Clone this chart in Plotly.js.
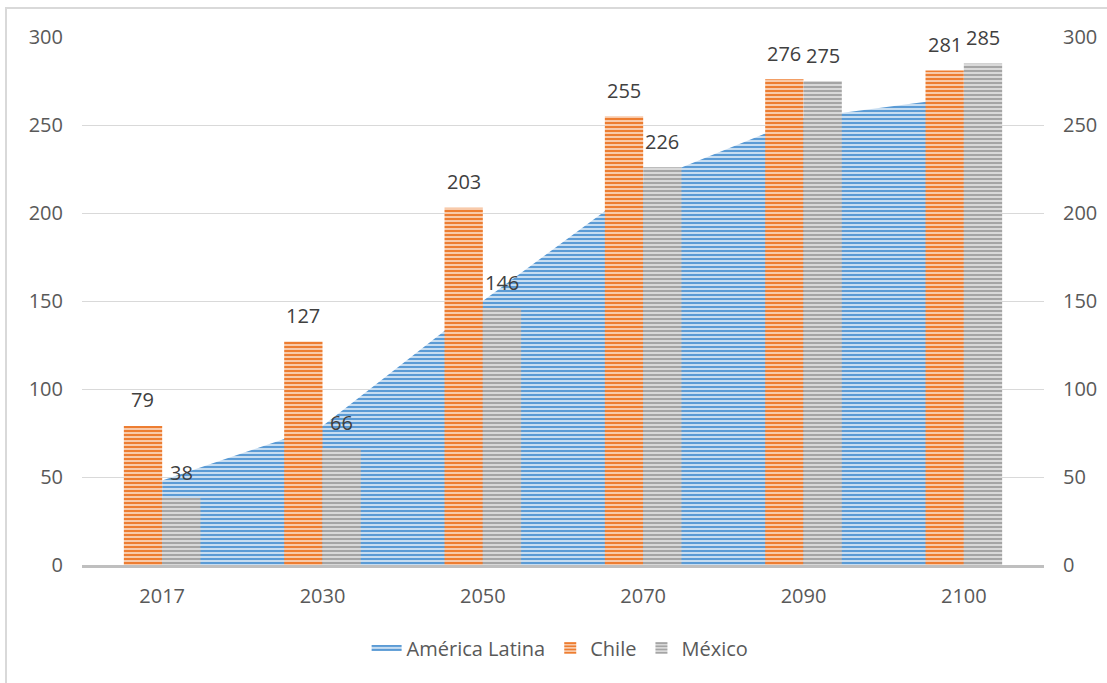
<!DOCTYPE html>
<html>
<head>
<meta charset="utf-8">
<script src="https://cdn.plot.ly/plotly-3.0.1.min.js"></script>
<style>
  html, body { margin: 0; padding: 0; background: #ffffff; }
  #wrap { position: relative; width: 1107px; height: 683px; overflow: hidden; }
  #chart { width: 1107px; height: 683px; }
  #frame { position: absolute; left: 5px; top: 7px; width: 1200px; height: 800px;
           border-left: 2px solid #D9D9D9; border-top: 2px solid #D9D9D9; pointer-events: none; }
  #err { position: absolute; left: 100px; top: 100px; color: red; font: 14px monospace; white-space: pre-wrap; width: 900px; }
</style>
</head>
<body>
<div id="wrap">
  <div id="chart"></div>
  <div id="frame"></div>
  <div id="err"></div>
</div>
<script>
window.onerror = function (m, s, l, c, e) { document.getElementById('err').textContent += 'ERR: ' + m + ' @' + l + ':' + c + '\n' + (e && e.stack ? e.stack.slice(0, 600) : ''); };
// ---- data ----
const years = ['2017', '2030', '2050', '2070', '2090', '2100'];
const americaLatina = [48, 79, 150, 217, 254, 266];
const chile = [79, 127, 203, 255, 276, 281];
const mexico = [38, 66, 146, 226, 275, 285];
const seriesNames = ['América Latina', 'Chile', 'México'];
const yTicks = [0, 50, 100, 150, 200, 250, 300];

// ---- styles ----
const FONT = 'Open Sans, sans-serif';
const labelFont = { family: FONT, size: 20, color: '#404040' };
const tickFont = { family: FONT, size: 20, color: '#595959' };

const traces = [
  {
    type: 'scatter',
    name: seriesNames[0],
    x: years,
    y: americaLatina,
    xaxis: 'x',
    yaxis: 'y',
    mode: 'none',
    fill: 'tozeroy',
    fillcolor: '#5B9BD5',
    fillpattern: { shape: '-', fgcolor: '#5B9BD5', bgcolor: '#E2EEF9', size: 4, solidity: 0.6 }
  },
  {
    type: 'bar',
    name: seriesNames[1],
    x: years,
    y: chile,
    xaxis: 'x',
    yaxis: 'y2',
    marker: {
      color: '#ED7D31',
      line: { width: 0 },
      pattern: { shape: '-', fgcolor: '#ED7D31', bgcolor: '#FBDDC8', size: 4, solidity: 0.6 }
    }
  },
  {
    type: 'bar',
    name: seriesNames[2],
    x: years,
    y: mexico,
    xaxis: 'x',
    yaxis: 'y2',
    marker: {
      color: '#A5A5A5',
      line: { width: 0 },
      pattern: { shape: '-', fgcolor: '#A5A5A5', bgcolor: '#E6E6E6', size: 4, solidity: 0.6 }
    }
  }
];

// data labels built from the bar series
const annotations = [];
years.forEach((yr, i) => {
  annotations.push({ x: i, y: chile[i], xref: 'x', yref: 'y2', text: String(chile[i]),
    showarrow: false, xshift: -19.2, yshift: 26, yanchor: 'middle', font: labelFont });
  annotations.push({ x: i, y: mexico[i], xref: 'x', yref: 'y2', text: String(mexico[i]),
    showarrow: false, xshift: 19.2, yshift: 26, yanchor: 'middle', font: labelFont });
});

const layout = {
  width: 1107,
  height: 683,
  margin: { l: 82, r: 63, t: 37, b: 118, pad: 0 },
  paper_bgcolor: '#ffffff',
  plot_bgcolor: '#ffffff',
  barmode: 'group',
  bargap: 0.522,
  bargroupgap: 0,
  showlegend: true,
  legend: {
    orientation: 'h',
    x: 0.497, xanchor: 'center',
    y: -0.157, yanchor: 'middle',
    font: { family: FONT, size: 20, color: '#595959' },
    traceorder: 'normal'
  },
  xaxis: {
    type: 'category',
    range: [-0.5, 5.5],
    showgrid: false,
    zeroline: false,
    showline: true,
    linecolor: '#BFBFBF',
    linewidth: 3,
    ticks: '',
    tickfont: tickFont,
    ticklabelstandoff: 11
  },
  yaxis: {
    range: [0, 300],
    tickvals: yTicks,
    showgrid: true,
    gridcolor: '#D9D9D9',
    gridwidth: 1,
    zeroline: false,
    showline: false,
    ticks: '',
    tickfont: tickFont,
    ticklabelstandoff: 18
  },
  yaxis2: {
    overlaying: 'y',
    side: 'right',
    range: [0, 300],
    tickvals: yTicks,
    showgrid: false,
    zeroline: false,
    showline: false,
    ticks: '',
    tickfont: tickFont,
    ticklabelstandoff: 18
  },
  annotations: annotations
};

Plotly.newPlot('chart', traces, layout, { staticPlot: true, displayModeBar: false })
  .catch(function (e) { document.getElementById('err').textContent += 'PROMISE: ' + e + '\n' + (e && e.stack ? e.stack.slice(0, 600) : ''); });
</script>
</body>
</html>
